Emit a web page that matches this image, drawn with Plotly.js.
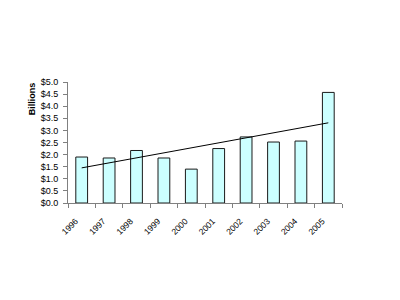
<!DOCTYPE html>
<html><head><meta charset="utf-8">
<script src="https://cdn.plot.ly/plotly-3.0.1.min.js"></script>
<style>html,body{margin:0;padding:0;background:#fff}#chart{width:400px;height:300px}</style>
</head><body><div id="chart"></div>
<script>
const years = ["1996","1997","1998","1999","2000","2001","2002","2003","2004","2005"];
const values = [1.90, 1.86, 2.17, 1.86, 1.40, 2.25, 2.73, 2.52, 2.56, 4.57];
const yTickVals = [0,0.5,1,1.5,2,2.5,3,3.5,4,4.5,5];

// linear trend line (least squares) computed from the data
const n = values.length;
const xs = values.map((_, i) => i + 1);
const mx = xs.reduce((a,b)=>a+b,0)/n;
const my = values.reduce((a,b)=>a+b,0)/n;
let sxy = 0, sxx = 0;
for (let i = 0; i < n; i++) { sxy += (xs[i]-mx)*(values[i]-my); sxx += (xs[i]-mx)**2; }
const slope = sxy/sxx, icpt = my - slope*mx;
const trend = xs.map(x => icpt + slope*x);

const data = [
  {type:'bar', x: years, y: values, marker:{color:'#ccffff', line:{color:'#1a1a1a', width:1}}, hoverinfo:'none'},
  {type:'scatter', mode:'lines', x: years, y: trend, line:{color:'#000', width:1}, hoverinfo:'none'}
];
const layout = {
  width:400, height:300, showlegend:false,
  paper_bgcolor:'#fff', plot_bgcolor:'#fff',
  margin:{l:68, r:58, t:82, b:97},
  bargap:0.57,
  font:{family:'Liberation Sans, Arial, sans-serif', color:'#000'},
  xaxis:{type:'category', tickangle:-45, tickfont:{size:8.5}, ticks:'outside', ticklen:4, tickcolor:'#808080',
         tickson:'boundaries', ticklabelstandoff:9, ticklabelshift:-6,
         showline:true, linecolor:'#808080', linewidth:1, showgrid:false, zeroline:false,
         range:[-0.5, 9.5]},
  yaxis:{range:[0,5], tickvals:yTickVals, ticktext:yTickVals.map(v=>'$'+v.toFixed(1)), tickfont:{size:9},
         ticks:'outside', ticklen:4, tickcolor:'#808080', ticklabelstandoff:3, showline:true, linecolor:'#808080', linewidth:1,
         showgrid:false, zeroline:false},
  annotations:[{text:'<b>Billions</b>', xref:'paper', yref:'paper', x:-0.13, y:0.86, xanchor:'center', yanchor:'middle',
                textangle:-90, showarrow:false, font:{size:9, color:'#000'}}]
};
Plotly.newPlot('chart', data, layout, {staticPlot:true, displayModeBar:false});
</script></body></html>
